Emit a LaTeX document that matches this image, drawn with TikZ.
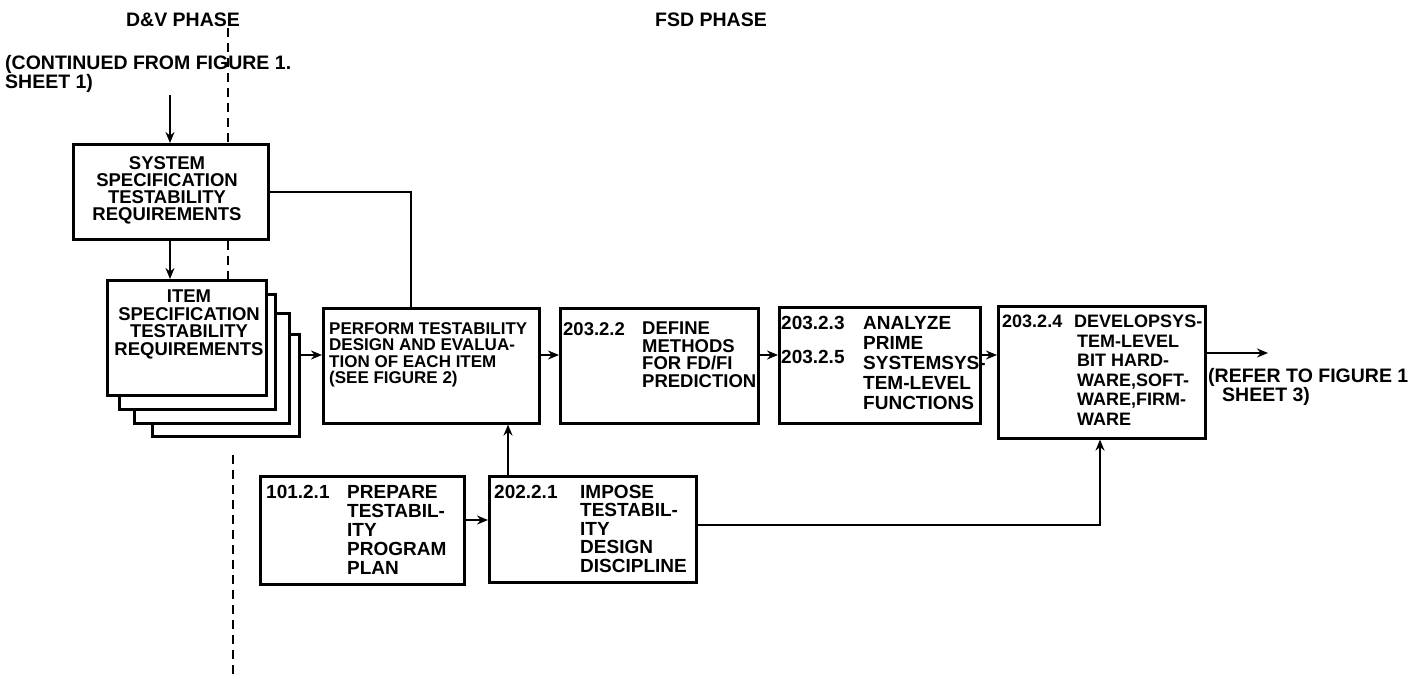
\documentclass[tikz,border=0pt]{standalone}
\usepackage{fontspec}
\setmainfont{Liberation Sans}
\usetikzlibrary{arrows.meta}
\begin{document}
\begin{tikzpicture}[x=1pt,y=-1pt,
  box/.style={draw, line width=2.6pt, inner sep=0pt, anchor=north west, fill=white},
  txt/.style={inner sep=0pt, anchor=north west, align=left},
  ctxt/.style={inner sep=0pt, anchor=north, align=center},
  arr/.style={-{Stealth[length=11pt,width=9pt]}, line width=2.2pt},
  conn/.style={line width=1.8pt},
  phase/.style={dash pattern=on 9pt off 6pt, line width=2pt},
  fB/.style={font=\fontsize{17}{16.5}\bfseries\selectfont},
  fC/.style={font=\fontsize{18.5}{17.5}\bfseries\selectfont},
  fD/.style={font=\fontsize{19}{20}\bfseries\selectfont},
  fE/.style={font=\fontsize{18}{19.5}\bfseries\selectfont},
  fT/.style={font=\fontsize{19.5}{15}\bfseries\selectfont}]
\useasboundingbox[fill=white] (0,0) rectangle (1426,679);

% phase titles
\node[fT, inner sep=0pt] (dv) at (183,20) {D\&V PHASE};
\node[fT, inner sep=0pt] (fsd) at (711,20) {FSD PHASE};
\node[txt, fT] (conttxt) at (5,55) {(CONTINUED FROM FIGURE 1.\\SHEET 1)};

% boxes
\node[box, minimum width=195pt, minimum height=95pt] (sys) at (72,143) {};
\node[box, minimum width=147pt, minimum height=102pt] (st3) at (151,333) {};
\node[box, minimum width=155pt, minimum height=110pt] (st2) at (133,312) {};
\node[box, minimum width=156pt, minimum height=115pt] (st1) at (118,293) {};
\node[box, minimum width=159pt, minimum height=115pt] (item) at (106,279) {};
\node[box, minimum width=216pt, minimum height=115pt] (perf) at (322,307) {};
\node[box, minimum width=198pt, minimum height=115pt] (def) at (559,307) {};
\node[box, minimum width=201pt, minimum height=116pt] (ana) at (778,306) {};
\node[box, minimum width=207pt, minimum height=132pt] (dev) at (997,305) {};
\node[box, minimum width=204pt, minimum height=108pt] (prep) at (259,475) {};
\node[box, minimum width=207pt, minimum height=106pt] (imp) at (488,475) {};

% box texts
\node[ctxt, font=\fontsize{18.5}{17}\bfseries\selectfont] (syst) at (167,156) {SYSTEM\\SPECIFICATION\\TESTABILITY\\REQUIREMENTS};
\node[ctxt, font=\fontsize{18.5}{17.5}\bfseries\selectfont] (itemt) at (189,290) {ITEM\\SPECIFICATION\\TESTABILITY\\REQUIREMENTS};
\node[txt, fB] (perft) at (329,322) {PERFORM TESTABILITY\\DESIGN AND EVALUA-\\TION OF EACH ITEM\\(SEE FIGURE 2)};
\node[txt, fC] (defn) at (563,322) {203.2.2};
\node[txt, fC] (deft) at (642,322) {DEFINE\\METHODS\\FOR FD/FI\\PREDICTION};
\node[txt, fD] (anan) at (781,316) {203.2.3};
\node[txt, fD] (anan2) at (781,350) {203.2.5};
\node[txt, fD] (anat) at (863,316) {ANALYZE\\PRIME\\SYSTEMSYS-\\TEM-LEVEL\\FUNCTIONS};
\node[txt, fE] (devn) at (1002,315) {203.2.4};
\node[txt, fE] (devt) at (1074,315) {DEVELOPSYS-\\\hspace*{3pt}TEM-LEVEL\\\hspace*{3pt}BIT HARD-\\\hspace*{3pt}WARE,SOFT-\\\hspace*{3pt}WARE,FIRM-\\\hspace*{3pt}WARE};
\node[txt, fD] (prepn) at (266,485) {101.2.1};
\node[txt, font=\fontsize{19}{19}\bfseries\selectfont] (prept) at (347,485) {PREPARE\\TESTABIL-\\ITY\\PROGRAM\\PLAN};
\node[txt, fD] (impn) at (494,485) {202.2.1};
\node[txt, font=\fontsize{19}{18.5}\bfseries\selectfont] (impt) at (580,485) {IMPOSE\\TESTABIL-\\ITY\\DESIGN\\DISCIPLINE};
\node[txt, font=\fontsize{19.5}{17}\bfseries\selectfont] (reft) at (1208,368) {(REFER TO FIGURE 1\\\hspace*{14pt}SHEET 3)};

% coordinates
\coordinate (cont) at (170,95);
\coordinate (j1) at (411,192);
\coordinate (row) at (0,355);
\coordinate (out) at (1268,353);
\coordinate (j2) at (1100,525);
\coordinate (j3) at (508,0);
\coordinate (row2) at (0,520);
\coordinate (d1) at (228,28);
\coordinate (d3) at (233,455);
\coordinate (d4) at (233,679);

% phase boundary
\draw[phase] (d1) -- (d1 |- sys.north);
\draw[phase] (d1 |- sys.south) -- (d1 |- item.north);
\draw[phase] (d3) -- (d4);

% connectors
\draw[arr] (cont) -- (cont |- sys.north);
\draw[arr] (cont |- sys.south) -- (cont |- item.north);
\draw[conn] (sys.east |- j1) -- (j1) -- (j1 |- perf.north);
\draw[arr] (st3.east |- row) -- (perf.west |- row);
\draw[arr] (perf.east |- row) -- (def.west |- row);
\draw[arr] (def.east |- row) -- (ana.west |- row);
\draw[arr] (ana.east |- row) -- (dev.west |- row);
\draw[arr] (dev.east |- out) -- (out);
\draw[arr] (prep.east |- row2) -- (imp.west |- row2);
\draw[arr] (j3 |- imp.north) -- (j3 |- perf.south);
\draw[arr] (imp.east |- j2) -- (j2) -- (j2 |- dev.south);
\end{tikzpicture}
\end{document}
